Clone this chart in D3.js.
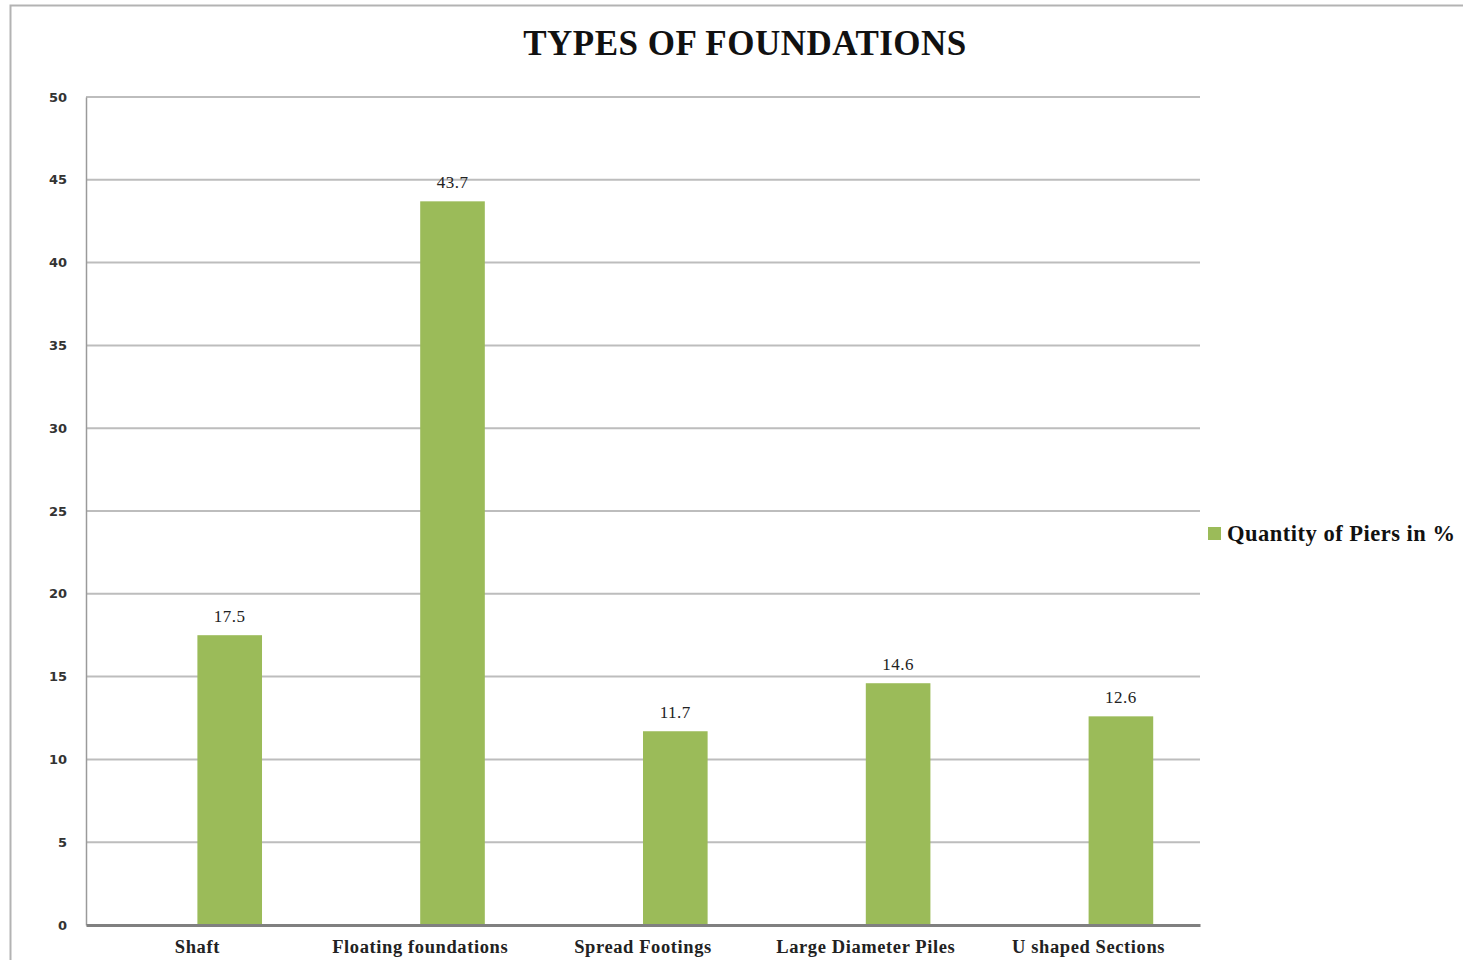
<!DOCTYPE html>
<html>
<head>
<meta charset="utf-8">
<script src="https://cdn.jsdelivr.net/npm/d3@7"></script>
<style>
  body { margin: 0; background: #fff; }
  svg { display: block; }
</style>
</head>
<body>
<svg width="1463" height="960"></svg>
<script>
var categories = ["Shaft", "Floating foundations", "Spread Footings", "Large Diameter Piles", "U shaped Sections"];
var values = [17.5, 43.7, 11.7, 14.6, 12.6];
var yTicks = [0, 5, 10, 15, 20, 25, 30, 35, 40, 45, 50];
var seriesName = "Quantity of Piers in %";

var svg = d3.select("svg");
var serif = "'Liberation Serif', 'Times New Roman', serif";
var green = "#9bbb59";

// chart frame
svg.append("rect")
    .attr("x", 10.5).attr("y", 5.5)
    .attr("width", 1470).attr("height", 980)
    .attr("fill", "none")
    .attr("stroke", "#b3b3b3")
    .attr("stroke-width", 2);

var plotLeft = 86, plotRight = 1200, plotTop = 97, plotBottom = 925;

var xScale = d3.scaleBand()
    .domain(categories)
    .range([plotLeft, plotRight]);

var yScale = d3.scaleLinear()
    .domain([0, 50])
    .range([plotBottom, plotTop]);

// gridlines
svg.append("g")
    .selectAll("line")
    .data(yTicks.filter(d => d > 0))
    .enter().append("line")
    .attr("x1", plotLeft).attr("x2", plotRight)
    .attr("y1", d => yScale(d)).attr("y2", d => yScale(d))
    .attr("stroke", "#bdbdbd")
    .attr("stroke-width", 2);

// y axis
var yAxis = svg.append("g")
    .attr("transform", "translate(" + plotLeft + ",0)")
    .call(d3.axisLeft(yScale).tickValues(yTicks).tickSize(0).tickPadding(19));
yAxis.select(".domain").attr("stroke", "#9a9a9a").attr("stroke-width", 1.5);
yAxis.selectAll("text")
    .attr("font-family", "'DejaVu Sans', Verdana, sans-serif")
    .attr("font-size", 13)
    .attr("font-weight", "bold")
    .attr("fill", "#333");

// bars
var bw = xScale.bandwidth() * 0.29;
svg.append("g")
    .selectAll("rect")
    .data(values)
    .enter().append("rect")
    .attr("x", (d, i) => xScale(categories[i]) + xScale.bandwidth() / 2)
    .attr("y", d => yScale(d))
    .attr("width", bw)
    .attr("height", d => plotBottom - yScale(d))
    .attr("fill", green);

// value labels
svg.append("g")
    .selectAll("text")
    .data(values)
    .enter().append("text")
    .attr("x", (d, i) => xScale(categories[i]) + xScale.bandwidth() / 2 + bw / 2)
    .attr("y", d => yScale(d) - 13)
    .attr("text-anchor", "middle")
    .attr("font-family", serif)
    .attr("font-size", 17)
    .attr("letter-spacing", 0.5)
    .attr("fill", "#222")
    .text(d => d);

// x axis
var xAxis = svg.append("g")
    .attr("transform", "translate(0," + plotBottom + ")")
    .call(d3.axisBottom(xScale).tickSize(0).tickPadding(15));
xAxis.select(".domain").attr("stroke", "#808080").attr("stroke-width", 3);
xAxis.selectAll("text")
    .attr("font-family", serif)
    .attr("font-size", 18.5)
    .attr("font-weight", "bold")
    .attr("letter-spacing", 0.6)
    .attr("fill", "#222");

// title
svg.append("text")
    .attr("x", 745).attr("y", 55)
    .attr("text-anchor", "middle")
    .attr("font-family", serif)
    .attr("font-size", 35)
    .attr("font-weight", "bold")
    .attr("letter-spacing", 0.5)
    .attr("fill", "#111")
    .text("TYPES OF FOUNDATIONS");

// legend
svg.append("rect")
    .attr("x", 1208).attr("y", 527)
    .attr("width", 13).attr("height", 13)
    .attr("fill", green);
svg.append("text")
    .attr("x", 1227).attr("y", 541)
    .attr("font-family", serif)
    .attr("font-size", 22.5)
    .attr("font-weight", "bold")
    .attr("letter-spacing", 0.5)
    .attr("fill", "#111")
    .text(seriesName);
</script>
</body>
</html>
